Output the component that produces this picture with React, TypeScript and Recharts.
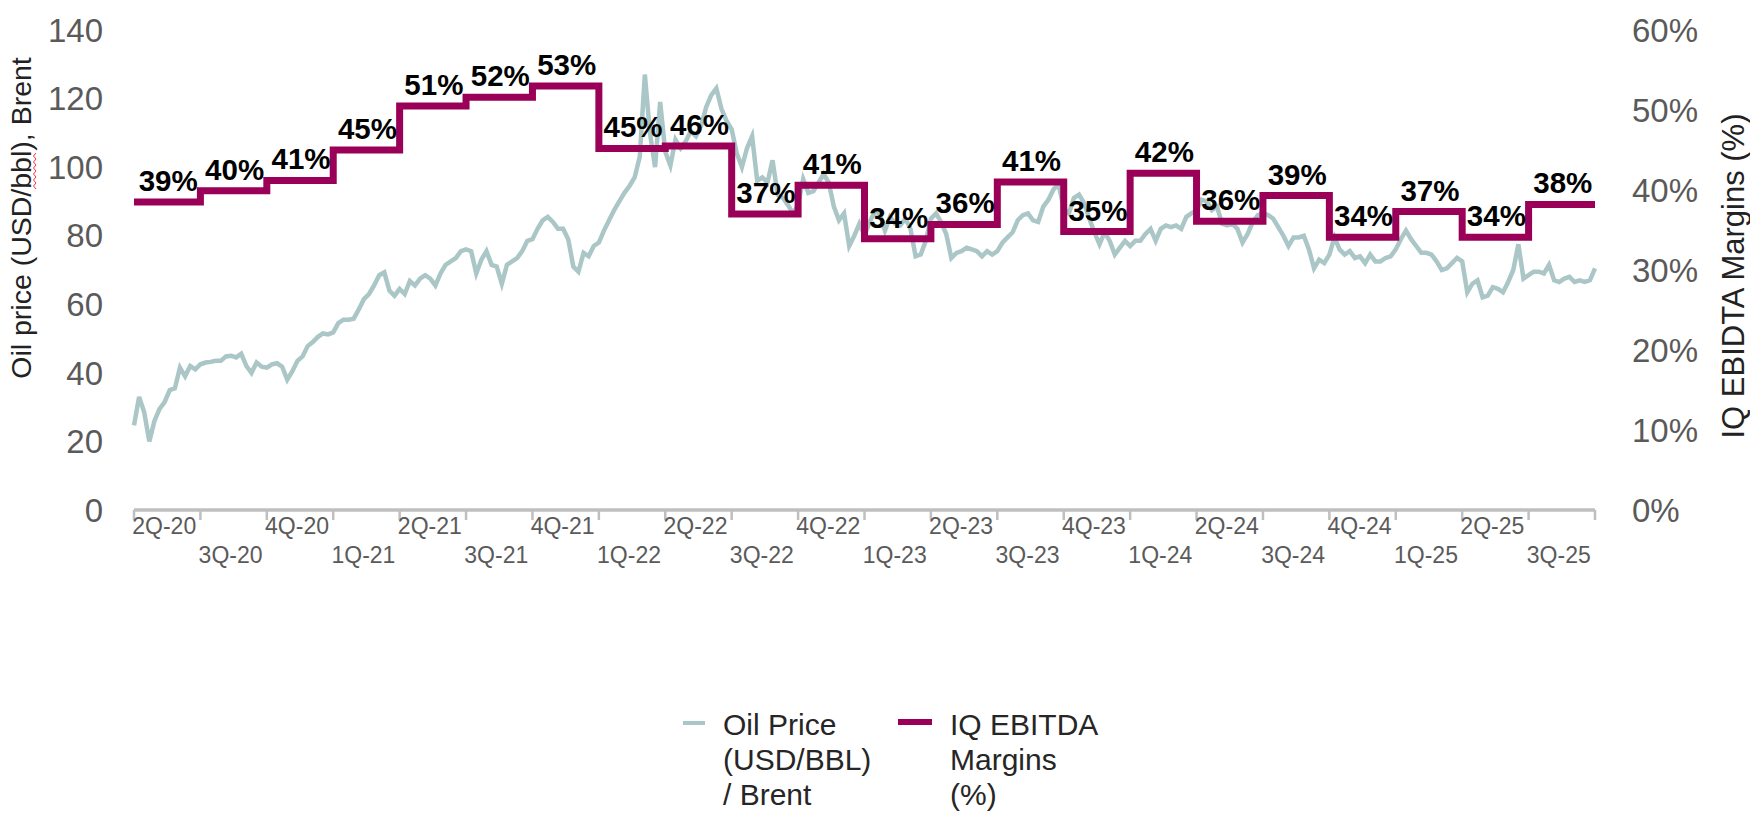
import React from 'react';
import { LineChart, Line, XAxis, YAxis, LabelList } from 'recharts';

// ---------- data ----------
const quarterLabels = [
  '2Q-20', '3Q-20', '4Q-20', '1Q-21', '2Q-21', '3Q-21', '4Q-21', '1Q-22', '2Q-22', '3Q-22', '4Q-22',
  '1Q-23', '2Q-23', '3Q-23', '4Q-23', '1Q-24', '2Q-24', '3Q-24', '4Q-24', '1Q-25', '2Q-25', '3Q-25',
];

// IQ EBITDA margin (%) per quarter, as drawn
const marginValues = [
  38.5, 39.9, 41.2, 45.0, 50.5, 51.6, 53.0, 45.2, 45.5, 37.0, 40.6,
  33.9, 35.7, 41.0, 34.8, 42.1, 36.1, 39.3, 34.1, 37.3, 34.1, 38.2,
];
const marginLabels = [
  '39%', '40%', '41%', '45%', '51%', '52%', '53%', '45%', '46%', '37%', '41%',
  '34%', '36%', '41%', '35%', '42%', '36%', '39%', '34%', '37%', '34%', '38%',
];

// Brent oil price (USD/bbl), weekly readings (13 per quarter), from 2Q-20
const oil2020 = [
  24.7, 33.0, 28.5, 20.0, 26.0, 29.5, 31.5, 35.0, 35.5, 41.5, 39.0, 42.0, 41.0,
  42.5, 43.0, 43.2, 43.5, 43.5, 44.8, 45.0, 44.5, 45.6, 42.0, 40.0, 43.0, 41.8,
  41.5, 42.5, 42.8, 41.8, 38.0, 40.5, 43.5, 44.8, 47.8, 49.0, 50.5, 51.5, 51.2,
];
const oil2021 = [
  51.8, 54.5, 55.5, 55.5, 55.8, 58.5, 61.5, 63.0, 65.5, 68.5, 69.3, 64.0, 62.5,
  64.5, 63.0, 66.8, 65.5, 67.5, 68.5, 67.5, 65.5, 69.0, 71.5, 72.5, 73.5, 75.5,
  76.0, 75.5, 69.0, 73.0, 75.5, 71.5, 71.0, 66.0, 71.5, 72.5, 73.5, 75.5, 78.5,
  79.0, 82.0, 84.5, 85.5, 84.0, 82.0, 82.0, 79.0, 71.0, 69.5, 75.0, 74.0, 77.0,
];
const oil2022 = [
  78.0, 81.5, 84.5, 87.5, 90.0, 92.5, 94.5, 97.0, 103.0, 127.0, 110.0, 100.0, 119.0,
  104.5, 100.5, 108.0, 105.5, 107.5, 110.5, 109.0, 112.0, 117.5, 121.0, 123.0, 117.0, 113.5,
  111.0, 104.0, 100.0, 105.5, 109.0, 96.0, 97.0, 95.5, 102.0, 92.0, 91.0, 89.0, 86.5,
  89.0, 96.5, 92.5, 93.0, 95.5, 98.0, 95.5, 88.5, 84.5, 86.5, 77.0, 80.0, 83.5,
];
const oil2023 = [
  80.0, 84.0, 87.0, 86.5, 81.5, 85.5, 83.5, 83.0, 85.0, 82.0, 74.0, 74.5, 78.5,
  85.0, 86.5, 84.0, 80.5, 73.5, 75.0, 75.5, 76.5, 76.0, 75.5, 74.0, 75.5, 74.5,
  75.5, 78.0, 79.5, 81.0, 84.5, 86.0, 86.5, 84.5, 84.0, 88.5, 90.5, 93.5, 95.0,
  88.0, 86.5, 91.0, 92.0, 89.5, 85.0, 81.0, 77.5, 81.0, 78.5, 74.5, 76.5, 78.5,
];
const oil2024 = [
  77.0, 78.5, 78.5, 80.5, 82.0, 78.5, 82.0, 83.0, 82.5, 83.0, 82.0, 85.5, 86.5,
  87.5, 90.5, 90.0, 87.5, 88.5, 83.5, 83.0, 83.5, 82.0, 78.0, 80.5, 84.0, 86.0,
  86.5, 86.0, 85.0, 82.5, 80.0, 77.0, 79.5, 79.5, 80.0, 76.0, 70.5, 73.0, 72.0,
  74.5, 79.5, 76.0, 74.5, 75.5, 73.5, 74.0, 72.0, 74.5, 72.5, 72.5, 73.5, 74.0,
];
const oil2025 = [
  76.0, 79.0, 81.5, 79.0, 77.0, 75.0, 75.0, 74.5, 72.5, 70.0, 70.5, 72.0, 73.5,
  72.5, 63.5, 66.0, 67.0, 62.0, 62.5, 65.0, 64.5, 63.5, 66.5, 70.0, 77.5, 67.5,
  68.5, 69.5, 69.5, 69.0, 71.5, 67.0, 66.5, 67.5, 68.0, 66.5, 67.0, 66.5, 67.0,
  70.5,
];

const leftTicks = [0, 20, 40, 60, 80, 100, 120, 140];
const rightTicks = [0, 10, 20, 30, 40, 50, 60];

// ---------- derived chart data ----------
const WEEKS_PER_Q = 13;
const oilPrices = [...oil2020, ...oil2021, ...oil2022, ...oil2023, ...oil2024, ...oil2025];
const oilData = oilPrices.map((p, i) => ({ t: i / WEEKS_PER_Q, price: p }));
const marginData = [
  ...marginValues.map((m, i) => ({ t: i, margin: m, label: marginLabels[i] })),
  { t: marginValues.length, margin: marginValues[marginValues.length - 1], label: '' },
];
const xTicks = Array.from({ length: quarterLabels.length + 1 }, (_, i) => i);

// ---------- layout / style ----------
const W = 1750;
const H = 814;
const LEFT_W = 134;
const RIGHT_W = 155;
const TOP = 30;
const BOTTOM_H = 304;
const PLOT_W = W - LEFT_W - RIGHT_W;
const HALF_Q = PLOT_W / quarterLabels.length / 2;
const FONT = "'Liberation Sans', Arial, Helvetica, sans-serif";
const OIL_COLOR = '#aac6c6';
const MARGIN_COLOR = '#9b0059';
const AXIS_GRAY = '#bfbfbf';
const TICK_TEXT = '#5a5a5a';

const QuarterTick = (props: any) => {
  const { x, y, payload } = props;
  const i = payload.value as number;
  if (i >= quarterLabels.length) return <g />;
  const upper = i % 2 === 0;
  return (
    <text
      x={x + HALF_Q - 3}
      y={y + (upper ? 14 : 43)}
      textAnchor="middle"
      fontSize={23}
      fill={TICK_TEXT}
      fontFamily={FONT}
      textLength={64}
      lengthAdjust="spacingAndGlyphs"
    >
      {quarterLabels[i]}
    </text>
  );
};

const MarginLabel = (props: any) => {
  const { x, y, value } = props;
  if (!value) return null;
  return (
    <text
      x={x + HALF_Q + 1}
      y={y - 11}
      textAnchor="middle"
      fontSize={29.5}
      fontWeight="bold"
      fill="#000"
      fontFamily={FONT}
    >
      {value}
    </text>
  );
};

export default function App() {
  return (
    <div style={{ position: 'absolute', left: 0, top: 0, width: W, height: H, overflow: 'hidden', background: '#fff' }}>
      <LineChart width={W} height={H} margin={{ top: TOP, right: 0, bottom: 0, left: 0 }}>
        <XAxis
          dataKey="t"
          type="number"
          domain={[0, quarterLabels.length]}
          ticks={xTicks}
          interval={0}
          height={BOTTOM_H}
          axisLine={{ stroke: AXIS_GRAY, strokeWidth: 3.5 }}
          tickLine={{ stroke: AXIS_GRAY, strokeWidth: 2.5 }}
          tickSize={10}
          tickMargin={0}
          tick={<QuarterTick />}
        />
        <YAxis
          yAxisId="oil"
          orientation="left"
          width={LEFT_W}
          domain={[0, 140]}
          ticks={leftTicks}
          interval={0}
          axisLine={false}
          tickLine={false}
          tickSize={0}
          tickMargin={31}
          tick={{ fontSize: 33, fill: TICK_TEXT, fontFamily: FONT }}
        />
        <YAxis
          yAxisId="margin"
          orientation="right"
          width={RIGHT_W}
          domain={[0, 60]}
          ticks={rightTicks}
          interval={0}
          axisLine={false}
          tickLine={false}
          tickSize={0}
          tickMargin={37}
          tickFormatter={(v: number) => `${v}%`}
          tick={{ fontSize: 33, fill: TICK_TEXT, fontFamily: FONT }}
        />
        <Line
          data={oilData}
          dataKey="price"
          yAxisId="oil"
          type="linear"
          stroke={OIL_COLOR}
          strokeWidth={4.5}
          dot={false}
          activeDot={false}
          isAnimationActive={false}
        />
        <Line
          data={marginData}
          dataKey="margin"
          yAxisId="margin"
          type="stepAfter"
          stroke={MARGIN_COLOR}
          strokeWidth={7}
          dot={false}
          activeDot={false}
          isAnimationActive={false}
        >
          <LabelList dataKey="label" content={<MarginLabel />} />
        </Line>

        {/* axis titles */}
        <text
          transform="translate(21,218) rotate(-90)"
          textAnchor="middle"
          dominantBaseline="central"
          fontSize={28.5}
          fill="#222"
          fontFamily={FONT}
        >
          Oil price (USD/bbl), Brent
        </text>
        <path
          d="M36,189 l-2.5,-3 l2.5,-3 l-2.5,-3 l2.5,-3 l-2.5,-3 l2.5,-3 l-2.5,-3 l2.5,-3 l-2.5,-3 l2.5,-3 l-2.5,-3 l2.5,-3"
          fill="none"
          stroke="#ff3030"
          strokeWidth={1}
        />
        <text
          transform="translate(1733,276) rotate(-90)"
          textAnchor="middle"
          dominantBaseline="central"
          fontSize={31}
          fill="#222"
          fontFamily={FONT}
        >
          IQ EBIDTA Margins (%)
        </text>

        {/* legend */}
        <line x1={683} x2={705} y1={723} y2={723} stroke={OIL_COLOR} strokeWidth={4} />
        <text x={723} y={735} fontSize={30} fill="#262626" fontFamily={FONT}>
          <tspan x={723} dy={0}>Oil Price</tspan>
          <tspan x={723} dy={35}>(USD/BBL)</tspan>
          <tspan x={723} dy={35}>/ Brent</tspan>
        </text>
        <line x1={898} x2={932} y1={722} y2={722} stroke={MARGIN_COLOR} strokeWidth={6} />
        <text x={950} y={735} fontSize={30} fill="#262626" fontFamily={FONT}>
          <tspan x={950} dy={0}>IQ EBITDA</tspan>
          <tspan x={950} dy={35}>Margins</tspan>
          <tspan x={950} dy={35}>(%)</tspan>
        </text>
      </LineChart>
    </div>
  );
}
